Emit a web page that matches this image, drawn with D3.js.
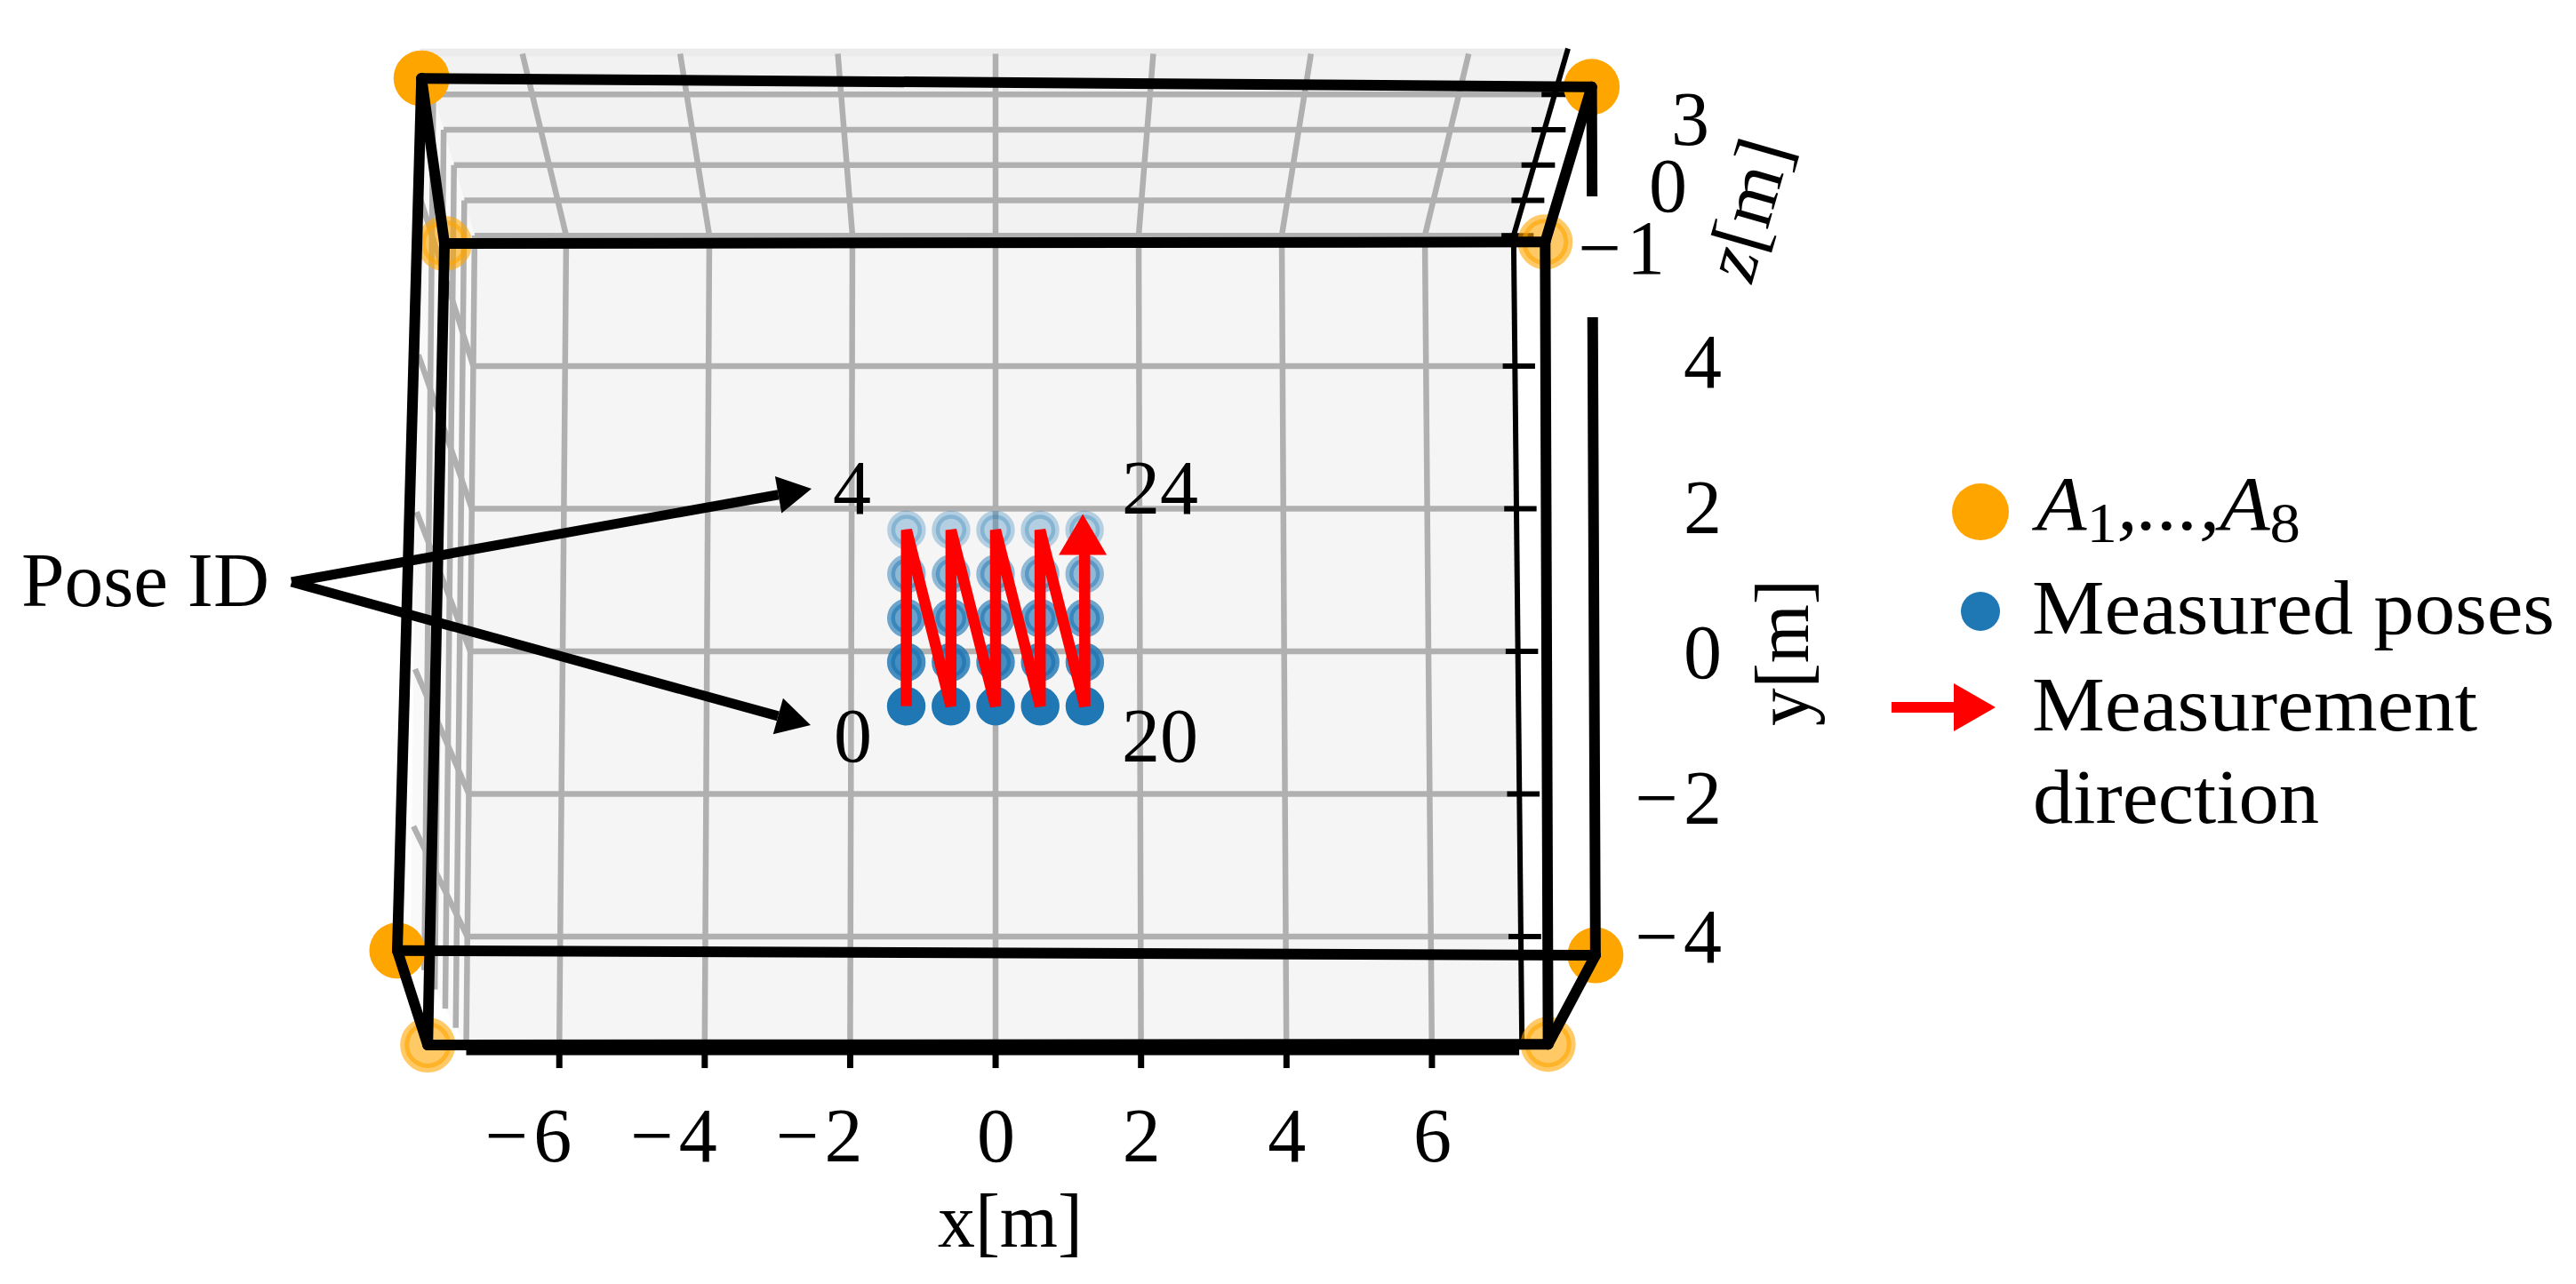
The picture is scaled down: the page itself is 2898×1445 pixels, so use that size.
<!DOCTYPE html>
<html>
<head>
<meta charset="utf-8">
<style>
    body { margin: 0; background: white; }
    svg { display: block; }
    text { font-family: "Liberation Serif", serif; font-size: 86px; fill: black; }
</style>
<script src="https://cdnjs.cloudflare.com/ajax/libs/d3/7.8.5/d3.min.js"></script>
</head>
<body>
<svg id="chart" width="2898" height="1445"></svg>
<script>
// ticks in metres
const xTicks = [-6, -4, -2, 0, 2, 4, 6];
const yTicks = [-4, -2, 0, 2, 4];
const zTicks = [-1, 0, 1, 2, 3];
const zLabelled = [-1, 0, 3];

// anchors A1..A8
const anchorX = [-7.70, 7.68, -7.81, 7.60, -7.31, 7.59, -7.50, 7.52];
const anchorY = [5.72, 5.74, -5.52, -5.51, 5.63, 5.52, -5.52, -5.58];
const anchorZ = [-1, -1, -1, -1, 3.9, 3.9, 3.9, 3.9];

// box edges as anchor index pairs
const edgeFrom = [4, 0, 6, 2, 4, 0, 5, 1, 4, 5, 6, 7];
const edgeTo = [5, 1, 7, 3, 6, 2, 7, 3, 0, 1, 2, 3];

// measured poses
const poseX = [-1.2, -0.6, 0, 0.6, 1.2];
const poseY = [-1.3, -0.7, -0.1, 0.5, 1.1];
const poseZ = 0.5;

// room extents
const xMin = -7.28, xMax = 7.24;
const yMin = -5.55, yMax = 5.83;
const zMin = -1, zMax = 4.3;

const legendLabels = ["Measured poses", "Measurement", "direction"];

let svg = d3.select("#chart");
const fmt = v => (v < 0 ? "\u2212" : "") + Math.abs(v);
const negSpacing = v => v < 0 ? "6px" : null;

// perspective: floor point lifted away from the vanishing point
const vanishX = 1120, vanishY = 2270;
let floorPitch = d3.scaleLinear().domain([yMin, yMax]).range([81.8, 80.5]);
let floorY = d3.scaleLinear().domain([-4, 4]).range([1054, 412]);
let lift = d3.scaleLinear().domain([zMin, zMax]).range([1, 1.105]);

function project(x, y, z) {
    let fx = x * floorPitch(y);
    let fy = floorY(y) - vanishY;
    let f = lift(z);
    return [vanishX + fx * f, vanishY + fy * f];
}

let line = d3.line();
function poly(pts, fill) {
    svg.append("path").attr("d", line(pts) + "Z").attr("fill", fill);
}
function seg(g, a, b, width, color) {
    return g.append("path").attr("d", line([a, b])).attr("stroke", color)
        .attr("stroke-width", width).attr("fill", "none");
}

// panes
poly([project(xMin, yMin, zMin), project(xMin, yMax, zMin), project(xMin, yMax, zMax), project(xMin, yMin, zMax)], "#f9f9f9");
poly([project(xMin, yMax, zMin), project(xMax, yMax, zMin), project(xMax, yMax, zMax), project(xMin, yMax, zMax)], "#f2f2f2");
poly([project(xMin, yMax, 4.08), project(xMax, yMax, 4.08), project(xMax, yMax, zMax), project(xMin, yMax, zMax)], "#ebebeb");
poly([project(xMin, yMin, zMin), project(xMax, yMin, zMin), project(xMax, yMax, zMin), project(xMin, yMax, zMin)], "#f5f5f5");

// grid
let grid = svg.append("g");
const gridColor = "#b0b0b0", gridWidth = 6.5;
xTicks.forEach(x => {
    seg(grid, project(x, yMin, zMin), project(x, yMax, zMin), gridWidth, gridColor);
    seg(grid, project(x, yMax, zMin), project(x, yMax, 4.15), gridWidth, gridColor);
});
yTicks.forEach(y => {
    seg(grid, project(xMin, y, zMin), project(xMax, y, zMin), gridWidth, gridColor);
    seg(grid, project(xMin, y, zMin), project(xMin, y, 4.15), gridWidth, gridColor);
});
zTicks.forEach(z => {
    seg(grid, project(xMin, yMax, z), project(xMax, yMax, z), gridWidth, gridColor);
    seg(grid, project(xMin, yMin, z), project(xMin, yMax, z), gridWidth, gridColor);
});

// y and z axis lines with their ticks
let axes = svg.append("g");
seg(axes, project(xMax, yMin, zMin), project(xMax, yMax, zMin), 6, "black");
seg(axes, project(xMax, yMax, zMin), project(xMax, yMax, zMax), 6, "black");
yTicks.forEach(y => seg(axes, project(xMax - 0.17, y, zMin), project(xMax + 0.28, y, zMin), 6, "black"));
zTicks.forEach(z => seg(axes, project(xMax - 0.17, yMax, z), project(xMax + 0.28, yMax, z), 6, "black"));

// x axis
let xAxisScale = d3.scaleLinear().domain([-7.28, 7.2]).range([524, 1708.6]);
let xAxis = svg.append("g").attr("transform", "translate(0,1183)")
    .call(d3.axisBottom(xAxisScale).tickValues(xTicks).tickSize(19).tickSizeOuter(0).tickFormat(fmt));
xAxis.select(".domain").attr("stroke-width", 8);
xAxis.selectAll(".tick line").attr("stroke-width", 7);
xAxis.selectAll(".tick text")
    .attr("y", 124).attr("dy", 0)
    .attr("text-anchor", "end")
    .attr("x", v => v < 0 ? 20 : 22)
    .style("letter-spacing", negSpacing);
xAxis.attr("font-size", null).attr("font-family", null);

// anchors, pale ones sit lower
let anchorAlpha = d3.scaleLinear().domain([zMin, 3.9]).range([0.6, 1]);
let anchors = anchorX.map((x, i) => ({ x: x, y: anchorY[i], z: anchorZ[i] }));
svg.append("g").selectAll("circle").data(anchors).enter().append("circle")
    .attr("cx", d => project(d.x, d.y, d.z)[0])
    .attr("cy", d => project(d.x, d.y, d.z)[1])
    .attr("r", d => d.z > 0 ? 31.5 : 26)
    .attr("fill", "orange")
    .attr("stroke", d => d.z > 0 ? "none" : "orange")
    .attr("stroke-width", 10)
    .attr("fill-opacity", d => anchorAlpha(d.z))
    .attr("stroke-opacity", d => anchorAlpha(d.z));

// poses fade with depth
let poseAlpha = d3.scaleLinear().domain([poseY[0], poseY[4]]).range([1, 0.3]);
let poses = d3.cross(poseX, poseY, (x, y) => ({ x: x, y: y }));
svg.append("g").selectAll("circle").data(poses).enter().append("circle")
    .attr("cx", d => project(d.x, d.y, poseZ)[0])
    .attr("cy", d => project(d.x, d.y, poseZ)[1])
    .attr("r", 17.2)
    .attr("fill", "#1f77b4")
    .attr("stroke", "#1f77b4")
    .attr("stroke-width", 9)
    .attr("fill-opacity", d => poseAlpha(d.y))
    .attr("stroke-opacity", d => poseAlpha(d.y));

// box
let box = svg.append("g");
edgeFrom.forEach((a, i) => {
    let b = edgeTo[i];
    seg(box, project(anchorX[a], anchorY[a], anchorZ[a]), project(anchorX[b], anchorY[b], anchorZ[b]), 12, "black")
        .attr("stroke-linecap", "round");
});

// label background cuts the outer right edge
svg.append("rect").attr("x", 1776).attr("y", 221).attr("width", 40).attr("height", 136).attr("fill", "white");

// measurement path
let zigzag = [];
poseX.forEach(x => {
    zigzag.push(project(x, poseY[0], poseZ));
    zigzag.push(project(x, poseY[4], poseZ));
});
svg.append("path").attr("d", line(zigzag)).attr("fill", "none")
    .attr("stroke", "#ff0000").attr("stroke-width", 12.5).attr("stroke-linejoin", "bevel");
let tip = project(poseX[4], poseY[4], poseZ);
poly([[tip[0] - 2, tip[1] - 18], [tip[0] - 29, tip[1] + 28], [tip[0] + 25, tip[1] + 28]], "#ff0000");

// tick labels on y and z
let yLabelY = d3.scaleLinear().domain([-4, -2, 0, 2, 4]).range([1083, 927, 763, 600, 436]);
svg.append("g").selectAll("text").data(yTicks).enter().append("text")
    .attr("x", d => d < 0 ? 1943 : 1937).attr("y", d => yLabelY(d)).attr("text-anchor", "end")
    .style("letter-spacing", negSpacing).text(fmt);
let zLabelY = d3.scaleLinear().domain([-1, 0, 3]).range([308, 238, 163]);
let zLabelX = d3.scaleLinear().domain([-1, 0, 3]).range([1879, 1898, 1923]);
svg.append("g").selectAll("text").data(zLabelled).enter().append("text")
    .attr("x", d => zLabelX(d)).attr("y", d => zLabelY(d)).attr("text-anchor", "end")
    .style("letter-spacing", negSpacing).text(fmt);

// axis titles
svg.append("text").attr("x", 1055).attr("y", 1403).attr("textLength", 163)
    .attr("lengthAdjust", "spacingAndGlyphs").text("x[m]");
svg.append("text").attr("transform", "translate(2034,817) rotate(-90)").attr("textLength", 165)
    .attr("lengthAdjust", "spacingAndGlyphs").text("y[m]");
svg.append("text").attr("transform", "translate(1968,236) rotate(-74)").attr("text-anchor", "middle")
    .attr("dy", "0.3em").attr("textLength", 160).attr("lengthAdjust", "spacingAndGlyphs")
    .html('<tspan font-style="italic">z</tspan>[m]');

// pose id labels
svg.append("text").attr("x", 937).attr("y", 578).text("4");
svg.append("text").attr("x", 938).attr("y", 857).text("0");
svg.append("text").attr("x", 1262).attr("y", 578).text("24");
svg.append("text").attr("x", 1262).attr("y", 857).text("20");
svg.append("text").attr("x", 24).attr("y", 682).attr("textLength", 279)
    .attr("lengthAdjust", "spacingAndGlyphs").text("Pose ID");

function pointer(from, to) {
    let a = Math.atan2(to[1] - from[1], to[0] - from[0]);
    let back = [to[0] - 38 * Math.cos(a), to[1] - 38 * Math.sin(a)];
    seg(svg, from, back, 11, "black");
    poly([to,
        [back[0] + 21 * Math.sin(a), back[1] - 21 * Math.cos(a)],
        [back[0] - 21 * Math.sin(a), back[1] + 21 * Math.cos(a)]], "black");
}
pointer([328, 655], [913, 550]);
pointer([328, 655], [912, 816]);

// legend
let legend = svg.append("g");
legend.append("circle").attr("cx", 2228).attr("cy", 576).attr("r", 32).attr("fill", "orange");
legend.append("circle").attr("cx", 2228).attr("cy", 688).attr("r", 22).attr("fill", "#1f77b4");
seg(legend, [2128, 796], [2200, 796], 12, "#ff0000");
legend.append("path").attr("d", line([[2198, 769], [2245, 796], [2198, 823]]) + "Z").attr("fill", "#ff0000");

legend.append("text").attr("x", 2291).attr("y", 596).attr("textLength", 297)
    .attr("lengthAdjust", "spacingAndGlyphs")
    .html('<tspan font-style="italic">A</tspan><tspan dy="14" font-size="64" style="font-size:64px">1</tspan>'
        + '<tspan dy="-14" font-style="italic">,...,A</tspan><tspan dy="14" style="font-size:64px">8</tspan>');
let legendX = [2286, 2286, 2287], legendY = [713, 822, 926], legendW = [588, 501, 322];
legendLabels.forEach((t, i) => {
    legend.append("text").attr("x", legendX[i]).attr("y", legendY[i]).attr("textLength", legendW[i])
        .attr("lengthAdjust", "spacingAndGlyphs").text(t);
});
</script>
</body>
</html>
